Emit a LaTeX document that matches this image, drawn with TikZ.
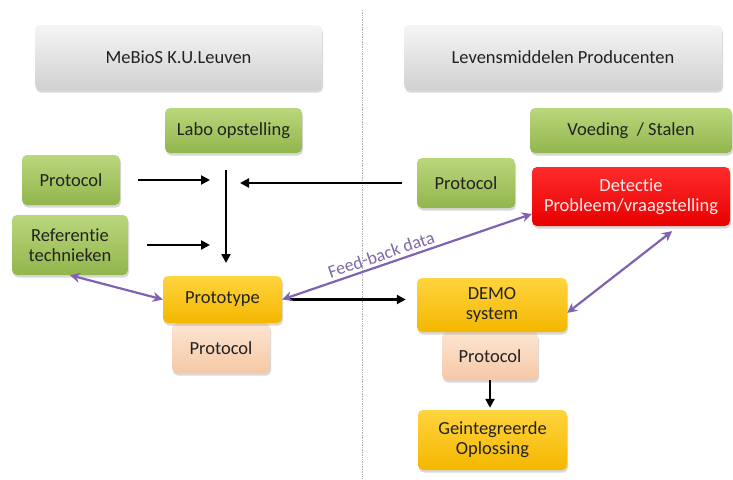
\documentclass[tikz,border=0pt]{standalone}
\usepackage{fontspec}
\setmainfont{Carlito}[Ligatures=NoCommon]
\usetikzlibrary{arrows.meta,shadows}
\definecolor{txt}{HTML}{222222}
\definecolor{grayT}{HTML}{F5F5F5}
\definecolor{grayB}{HTML}{D1D1D1}
\definecolor{greenT}{HTML}{BAD77C}
\definecolor{greenB}{HTML}{92B54C}
\definecolor{yelT}{HTML}{FFD43E}
\definecolor{yelB}{HTML}{F4B700}
\definecolor{redT}{HTML}{FF2B2B}
\definecolor{redB}{HTML}{E80000}
\definecolor{peachT}{HTML}{FDE5D2}
\definecolor{peachB}{HTML}{F5C8A5}
\definecolor{purp}{HTML}{7F62B0}
\definecolor{divider}{HTML}{B0B0B0}
\tikzset{
  box/.style={rounded corners=5pt, inner sep=2pt, align=center, text=txt,
    font=\fontsize{18.5}{20}\selectfont,
    drop shadow={opacity=0.3, shadow xshift=1pt, shadow yshift=-2.5pt}},
  graybox/.style={box, top color=grayT, bottom color=grayB},
  greenbox/.style={box, top color=greenT, bottom color=greenB},
  yellowbox/.style={box, top color=yelT, bottom color=yelB},
  redbox/.style={box, top color=redT, bottom color=redB, text=white!92!red},
  peachbox/.style={box, top color=peachT, bottom color=peachB},
  blackarrow/.style={line width=2.8pt, -{Triangle[length=9pt,width=9pt]}},
  purplearrow/.style={line width=2.2pt, draw=purp,
    {Stealth[length=10pt,width=10pt]}-{Stealth[length=10pt,width=10pt]}}
}
\begin{document}
\begin{tikzpicture}[x=1pt,y=-1pt]
\useasboundingbox (0,0) rectangle (733,479);
\fill[white] (0,0) rectangle (733,479);
% divider
\draw[divider, densely dotted, line width=0.7pt] (362,10) -- (362,479);

% header boxes
\node[graybox, minimum width=287pt, minimum height=65pt] (mebios) at (178.5,57.5) {MeBioS K.U.Leuven};
\node[graybox, minimum width=318pt, minimum height=65pt] (leven) at (563,57.5) {Levensmiddelen Producenten};

% green boxes
\node[greenbox, minimum width=137pt, minimum height=45pt] (labo) at (233.5,130.5) {Labo opstelling};
\node[greenbox, minimum width=202pt, minimum height=45pt] (voed) at (631,130.5) {Voeding~~/ Stalen};
\node[greenbox, minimum width=98pt, minimum height=50pt] (protL) at (71,180) {Protocol};
\node[greenbox, minimum width=116pt, minimum height=60pt] (ref) at (70,245) {Referentie\\technieken};
\node[greenbox, minimum width=98pt, minimum height=50pt] (protR) at (466,183) {Protocol};
\node[redbox, minimum width=198pt, minimum height=59pt] (det) at (631,196.5) {Detectie\\Probleem/vraagstelling};

% prototype stack
\node[peachbox, minimum width=98pt, minimum height=50pt] (protP) at (221,348) {Protocol};
\node[yellowbox, minimum width=119pt, minimum height=47pt] (proto) at (222.5,299.5) {Prototype};

% demo stack
\node[peachbox, minimum width=96pt, minimum height=48pt] (protD) at (490,356) {Protocol};
\node[yellowbox, minimum width=150pt, minimum height=54pt] (demo) at (492,305) {DEMO\\system};
\node[yellowbox, minimum width=149pt, minimum height=60pt] (geint) at (492.5,440) {Geintegreerde\\Oplossing};

% junction coordinates
\coordinate (jA) at (210,180);
\coordinate (jB) at (210,245);
\coordinate (jC) at (240,183);
\coordinate (vTop) at (226,170);
\coordinate (vBot) at (226,263);

% black arrows
\draw[blackarrow, shorten <=18pt] (protL.east) -- (jA);
\draw[blackarrow, shorten <=19pt] (ref.east) -- (jB);
\draw[blackarrow, shorten <=15pt] (protR.west) -- (jC);
\draw[blackarrow] (vTop) -- (vBot);
\draw[blackarrow, shorten <=8pt, shorten >=11pt] (proto.east) -- (proto.east -| demo.west);
\draw[blackarrow, shorten >=2pt] (protD.south) -- (protD.south |- geint.north);

% purple arrows
\draw[purplearrow] (ref.south) -- (proto.west);
\draw[purplearrow] (proto.east) -- (det.190)
  node[pos=0.41, sloped, above=3pt, text=purp!85!gray, font=\fontsize{18}{20}\selectfont, inner sep=0pt] {Feed-back data};
\draw[purplearrow, shorten >=8pt] (demo.-6) -- (det.-32);
\end{tikzpicture}
\end{document}
